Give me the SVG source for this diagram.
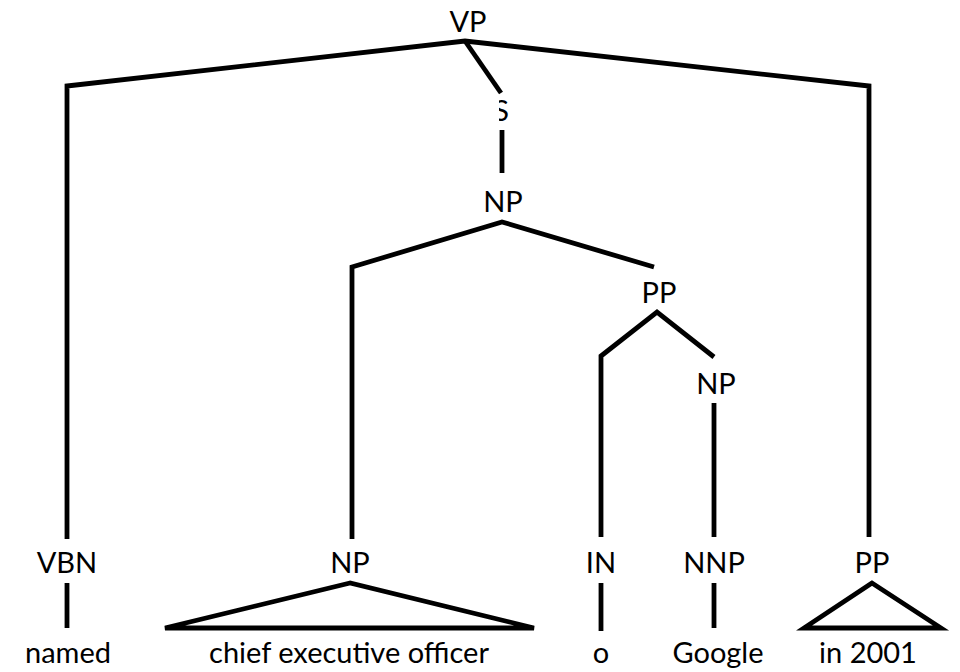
<svg xmlns="http://www.w3.org/2000/svg" width="960" height="672" viewBox="0 0 960 672">
<defs>
<style>
.t{font-family:Lato,"Open Sans","Liberation Sans",sans-serif;font-size:29px;fill:#000;text-anchor:middle}
.e{fill:none;stroke:#000;stroke-width:4.8;stroke-linejoin:miter;stroke-linecap:butt}
</style>
<clipPath id="sclip"><rect x="499" y="90" width="40" height="40"/></clipPath>
</defs>
<rect width="960" height="672" fill="#fff"/>
<g id="connectors">
<polyline class="e" points="67,539 67,86 465,41 869,86 869,537"/>
<line class="e" x1="465" y1="41" x2="501" y2="93"/>
<line class="e" x1="502" y1="130" x2="502" y2="173"/>
<polyline class="e" points="352,539 352,267 502,222 654,267"/>
<polyline class="e" points="601,537 601,356 657,312 714,357"/>
<line class="e" x1="714" y1="403" x2="714" y2="537"/>
<line class="e" x1="67" y1="583" x2="67" y2="628"/>
<polygon class="e" points="350,583 165,628 534,628"/>
<line class="e" x1="601" y1="583" x2="601" y2="631"/>
<line class="e" x1="714" y1="583" x2="714" y2="628"/>
<polygon class="e" points="872,583 804,628 941,628"/>
</g>
<g id="n-vp"><text class="t" x="468" y="32">VP</text></g>
<g id="n-s"><text class="t" x="501" y="121" clip-path="url(#sclip)">S</text></g>
<g id="n-np1"><text class="t" x="503" y="212">NP</text></g>
<g id="n-pp1"><text class="t" x="659" y="303">PP</text></g>
<g id="n-np2"><text class="t" x="716" y="394">NP</text></g>
<g id="n-vbn"><text class="t" x="67" y="573">VBN</text></g>
<g id="n-np3"><text class="t" x="350" y="573">NP</text></g>
<g id="n-in"><text class="t" x="601" y="573">IN</text></g>
<g id="n-nnp"><text class="t" x="714" y="573">NNP</text></g>
<g id="n-pp2"><text class="t" x="872" y="573">PP</text></g>
<g id="w-named"><text class="t" x="68" y="663">named</text></g>
<g id="w-ceo"><text class="t" x="349" y="663">chief executive officer</text></g>
<g id="w-o"><text class="t" x="601" y="663">o</text></g>
<g id="w-google"><text class="t" x="718" y="663">Google</text></g>
<g id="w-in2001"><text class="t" x="868" y="663">in 2001</text></g>
</svg>
